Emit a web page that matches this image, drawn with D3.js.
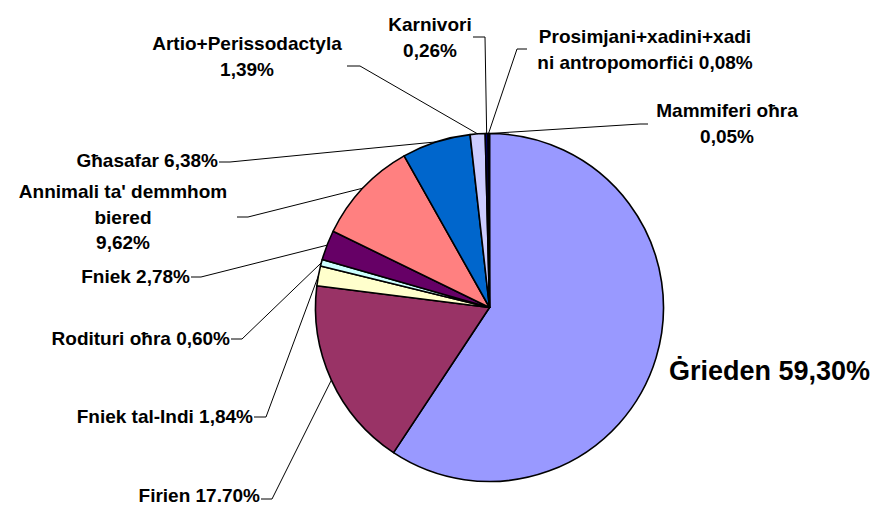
<!DOCTYPE html>
<html>
<head>
<meta charset="utf-8">
<script src="https://cdn.jsdelivr.net/npm/d3@7"></script>
<style>
  body { margin: 0; background: #fff; }
  svg text { font-family: "Liberation Sans", Arial, sans-serif; font-weight: bold; fill: #000; }
</style>
</head>
<body>
<div id="chart"></div>
<script>
var names = ["Ġrieden", "Firien", "Fniek tal-Indi", "Rodituri oħra", "Fniek",
  "Annimali ta' demmhom biered", "Għasafar", "Artio+Perissodactyla", "Karnivori",
  "Prosimjani+xadini+xadini antropomorfiċi", "Mammiferi oħra"];
var values = [59.30, 17.70, 1.84, 0.60, 2.78, 9.62, 6.38, 1.39, 0.26, 0.08, 0.05];
var pctText = ["59,30%", "17.70%", "1,84%", "0,60%", "2,78%", "9,62%", "6,38%", "1,39%", "0,26%", "0,08%", "0,05%"];
var colors = ["#9999FF", "#993366", "#FFFFCC", "#CCFFFF", "#660066", "#FF8080",
  "#0066CC", "#CCCCFF", "#000080", "#FF00FF", "#FFFF00"];

// label text split into lines the way the picture wraps them
var labelLines = [
  ["Ġrieden 59,30%"],
  ["Firien 17.70%"],
  ["Fniek tal-Indi 1,84%"],
  ["Rodituri oħra 0,60%"],
  ["Fniek 2,78%"],
  ["Annimali ta' demmhom", "biered", "9,62%"],
  ["Għasafar 6,38%"],
  ["Artio+Perissodactyla", "1,39%"],
  ["Karnivori", "0,26%"],
  ["Prosimjani+xadini+xadi", "ni antropomorfiċi 0,08%"],
  ["Mammiferi oħra", "0,05%"]
];

var width = 877, height = 506;
var cx = 489.5, cy = 307.5, radius = 174;

// where each label sits and where its leader bends
var labelPos = [
  {x: 669, y: 380, anchor: 'start', size: 27, leader: null},
  {x: 260, y: 502, anchor: 'end', leader: [[261, 499], [272, 499]]},
  {x: 253, y: 423, anchor: 'end', leader: [[254, 417], [266, 417]]},
  {x: 230, y: 345, anchor: 'end', leader: [[231, 339], [242, 339]]},
  {x: 190, y: 283, anchor: 'end', leader: [[191, 277], [201, 277]]},
  {x: 123, y: 198, anchor: 'middle', leader: [[237, 217], [248, 217]]},
  {x: 218, y: 167, anchor: 'end', leader: [[219, 162], [230, 162]]},
  {x: 247, y: 50, anchor: 'middle', leader: [[347, 66], [360, 66]]},
  {x: 430, y: 31, anchor: 'middle', leader: [[473, 37], [485, 37]]},
  {x: 645, y: 43, anchor: 'middle', leader: [[527, 49], [517, 49]]},
  {x: 727, y: 117, anchor: 'middle', leader: [[648, 124], [640, 124]]}
];
var lineHeight = 25.5;

var data = values.map(function(v, i) {
  return {name: names[i], value: v, pct: pctText[i], i: i};
});

var svg = d3.select('#chart').append('svg')
    .attr('width', width)
    .attr('height', height);

var pie = d3.pie().sort(null).value(function(d) { return d.value; });
var arcs = pie(data);

var arc = d3.arc().innerRadius(0).outerRadius(radius);
var edgeArc = d3.arc().innerRadius(radius).outerRadius(radius);

var g = svg.append('g')
    .attr('transform', 'translate(' + cx + ',' + cy + ')');

g.selectAll('path.slice')
    .data(arcs)
    .enter().append('path')
    .attr('class', 'slice')
    .attr('d', arc)
    .attr('fill', function(d) { return colors[d.data.i]; })
    .attr('stroke', '#000')
    .attr('stroke-width', 1.6)
    .attr('stroke-linejoin', 'round');

// leader lines
var line = d3.line();
arcs.forEach(function(d) {
  var p = labelPos[d.data.i];
  if (!p.leader) return;
  var c = edgeArc.centroid(d);
  var pts = p.leader.concat([[c[0] + cx, c[1] + cy]]);
  svg.append('path')
      .attr('d', line(pts))
      .attr('fill', 'none')
      .attr('stroke', '#000')
      .attr('stroke-width', 1);
});

// labels
labelLines.forEach(function(lines, i) {
  var p = labelPos[i];
  var t = svg.append('text')
      .attr('text-anchor', p.anchor)
      .style('font-size', (p.size || 19) + 'px');
  lines.forEach(function(s, k) {
    t.append('tspan')
        .attr('x', p.x)
        .attr('y', p.y + k * lineHeight)
        .text(s);
  });
});
</script>
</body>
</html>
